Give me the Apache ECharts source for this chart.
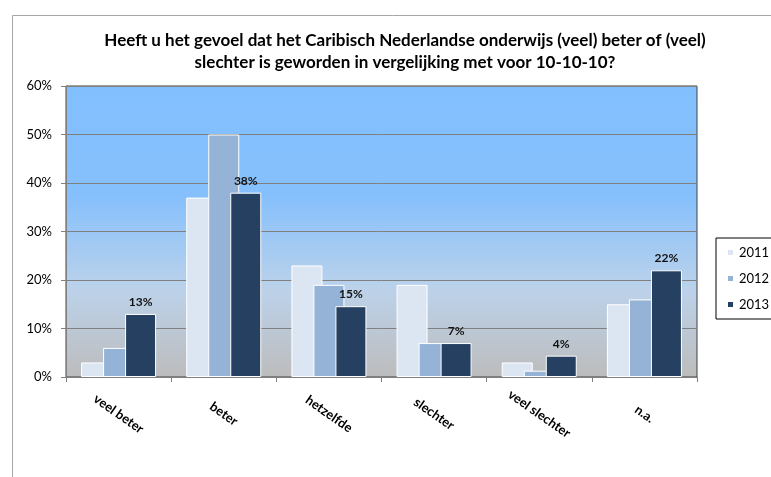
<!DOCTYPE html>
<html>
<head>
<meta charset="utf-8">
<script src="https://cdn.jsdelivr.net/npm/echarts@6/dist/echarts.min.js"></script>
<style>
  html, body { margin: 0; padding: 0; background: #fff; }
  #chart { width: 771px; height: 477px; }
</style>
</head>
<body>
<div id="chart"></div>
<script>
// antwoordcategorieen
var categories = ['veel beter', 'beter', 'hetzelfde', 'slechter', 'veel slechter', 'n.a.'];
var years = ['2011', '2012', '2013'];
// percentages per jaar
var data2011 = [3, 37, 23, 19, 3, 15];
var data2012 = [6, 50, 19, 7, 1.3, 16];
var data2013 = [13, 38, 14.6, 7, 4.4, 22];
var yTicks = [0, 10, 20, 30, 40, 50, 60];

var colors = ['#dce6f2', '#95b3d7', '#254061'];
var font = 'Lato';

var chart = echarts.init(document.getElementById('chart'));

function barSeries(name, values, idx, withLabel) {
    return {
        name: name,
        type: 'bar',
        barWidth: 31,
        barGap: '-29%',
        data: values,
        itemStyle: {
            color: colors[idx],
            borderColor: '#ffffff',
            borderWidth: 1
        },
        label: {
            show: withLabel,
            position: 'top',
            distance: 6,
            fontFamily: font,
            fontWeight: 'bold',
            fontSize: 12,
            color: '#111',
            formatter: function (p) { return Math.round(p.value) + '%'; }
        }
    };
}

var option = {
    animation: false,
    backgroundColor: '#fff',
    title: {
        text: 'Heeft u het gevoel dat het Caribisch Nederlandse onderwijs (veel) beter of (veel)\nslechter is geworden in vergelijking met voor 10-10-10?',
        left: 400,
        top: 25,
        textAlign: 'center',
        textStyle: {
            fontFamily: font,
            fontWeight: 'bold',
            fontSize: 17,
            lineHeight: 22,
            color: '#000'
        }
    },
    graphic: [{
        type: 'rect',
        left: 10,
        top: 13,
        shape: { width: 800, height: 500 },
        style: { fill: 'none', stroke: '#a6a6a6', lineWidth: 1 },
        silent: true
    }],
    legend: {
        data: years,
        orient: 'vertical',
        left: 716,
        top: 238,
        itemWidth: 7,
        itemHeight: 7,
        itemGap: 13,
        padding: [8, 10, 8, 10],
        borderColor: '#000',
        borderWidth: 1,
        icon: 'rect',
        textStyle: { fontFamily: font, fontSize: 13, color: '#000' }
    },
    grid: {
        left: 66,
        right: 74,
        top: 86,
        bottom: 100,
        show: true,
        borderColor: '#404040',
        borderWidth: 1,
        backgroundColor: {
            type: 'linear', x: 0, y: 0, x2: 0, y2: 1,
            colorStops: [
                { offset: 0, color: '#82bffe' },
                { offset: 0.38, color: '#86c0fc' },
                { offset: 0.7, color: '#bcd2ea' },
                { offset: 1, color: '#bcbcbc' }
            ]
        }
    },
    xAxis: {
        type: 'category',
        data: categories,
        axisLine: { lineStyle: { color: '#808080', width: 1 } },
        axisTick: { show: true, length: 5, lineStyle: { color: '#808080' } },
        axisLabel: {
            rotate: -35,
            align: 'center',
            verticalAlign: 'middle',
            margin: 37,
            interval: 0,
            fontFamily: font,
            fontWeight: 'bold',
            fontSize: 13,
            color: '#000'
        }
    },
    yAxis: {
        type: 'value',
        min: yTicks[0],
        max: yTicks[yTicks.length - 1],
        interval: 10,
        axisLine: { show: true, lineStyle: { color: '#808080' } },
        axisTick: { show: true, length: 5, lineStyle: { color: '#808080' } },
        splitLine: { lineStyle: { color: '#808080', width: 1 } },
        axisLabel: {
            margin: 14,
            fontFamily: font,
            fontSize: 13,
            color: '#000',
            formatter: '{value}%'
        }
    },
    series: [
        barSeries(years[0], data2011, 0, false),
        barSeries(years[1], data2012, 1, false),
        barSeries(years[2], data2013, 2, true)
    ]
};

chart.setOption(option);
</script>
</body>
</html>
